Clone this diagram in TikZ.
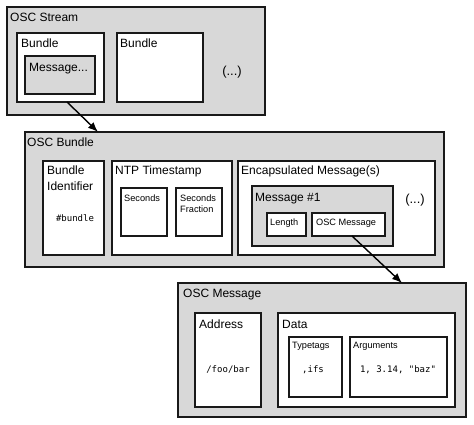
\documentclass[tikz,border=0pt]{standalone}
\usepackage{fontspec}
\setmainfont{Liberation Sans}
\setmonofont{DejaVu Sans Mono}
\usetikzlibrary{arrows.meta}
\definecolor{boxgray}{RGB}{216,216,216}
\begin{document}
\begin{tikzpicture}[x=1pt,y=-1pt,
  box/.style={draw=black!90,line width=1.15pt,fill=white,anchor=north west,inner sep=0pt,outer sep=0pt},
  gbox/.style={box,fill=boxgray},
  big/.style={font=\fontsize{12}{13.5}\selectfont,inner sep=0pt,anchor=base west},
  small/.style={font=\fontsize{9.2}{11}\selectfont,inner sep=0pt,anchor=base west},
  code/.style={font=\ttfamily\fontsize{9}{10.5}\selectfont,inner sep=0pt,anchor=base},
  arr/.style={-{Latex[length=10pt,width=8pt]},line width=1.4pt}]
\useasboundingbox[fill=white] (0,0) rectangle (474,425);
% OSC Stream
\node[gbox,minimum width=258,minimum height=108] (stream) at (7,7) {};
\node[big] (lstream) at (10,22) {OSC Stream};
\node[box,minimum width=87,minimum height=69] (b1) at (17,33) {};
\node[big] (lb1) at (21,48) {Bundle};
\node[gbox,minimum width=70,minimum height=38] (msgdots) at (25,56) {};
\node[big] (lmsgdots) at (29,72) {Message...};
\node[box,minimum width=86,minimum height=69] (b2) at (117,33) {};
\node[big] (lb2) at (120,48) {Bundle};
\node[font=\fontsize{13}{15}\selectfont,inner sep=0pt] (dots1) at (232,72) {(...)};
% OSC Bundle
\node[gbox,minimum width=419,minimum height=135] (bundle) at (25,132) {};
\node[big] (lbundle) at (27,147) {OSC Bundle};
\node[box,minimum width=61,minimum height=94] (bid) at (43,161) {};
\node[big] (lbid1) at (47,175) {Bundle};
\node[big] (lbid2) at (47,190) {Identifier};
\node[code] (hb) at (75,222) {\#bundle};
\node[box,minimum width=120,minimum height=94] (ntp) at (112,161) {};
\node[big] (lntp) at (115,175) {NTP Timestamp};
\node[box,minimum width=46,minimum height=48] (sec) at (121,188) {};
\node[small] (lsec) at (124,201) {Seconds};
\node[box,minimum width=46,minimum height=48] (secf) at (176,188) {};
\node[small] (lsecf1) at (180,201) {Seconds};
\node[small] (lsecf2) at (180,212) {Fraction};
\node[box,minimum width=197,minimum height=94] (enc) at (238,161) {};
\node[big] (lenc) at (241,175) {Encapsulated Message(s)};
\node[gbox,minimum width=141,minimum height=60] (m1) at (252,186) {};
\node[big] (lm1) at (255,201) {Message \#1};
\node[box,minimum width=39,minimum height=23] (len) at (267,213) {};
\node[small] (llen) at (270,225) {Length};
\node[box,minimum width=73,minimum height=23] (oscm) at (312,213) {};
\node[small] (loscm) at (316,225) {OSC Message};
\node[font=\fontsize{13}{15}\selectfont,inner sep=0pt] (dots2) at (415,200) {(...)};
% OSC Message
\node[gbox,minimum width=288,minimum height=134] (msg) at (178,283) {};
\node[big] (lmsg) at (183,297) {OSC Message};
\node[box,minimum width=66,minimum height=94] (addr) at (195,313) {};
\node[big] (laddr) at (199,328) {Address};
\node[code] (foo) at (228,372) {/foo/bar};
\node[box,minimum width=177,minimum height=94] (data) at (278,313) {};
\node[big] (ldata) at (282,328) {Data};
\node[box,minimum width=53,minimum height=60] (tt) at (289,337) {};
\node[small] (ltt) at (292,348) {Typetags};
\node[code] (ifs) at (313,372) {,ifs};
\node[box,minimum width=97,minimum height=60] (args) at (350,337) {};
\node[small] (largs) at (353,348) {Arguments};
\node[code] (argv) at (398,372) {1, 3.14, "baz"};
% arrows
\draw[arr] ([xshift=6.5pt]b1.south) -- ([xshift=-136.5pt]bundle.north);
\draw[arr] ([xshift=3.5pt]oscm.south) -- ([xshift=80pt]msg.north);
\end{tikzpicture}
\end{document}
